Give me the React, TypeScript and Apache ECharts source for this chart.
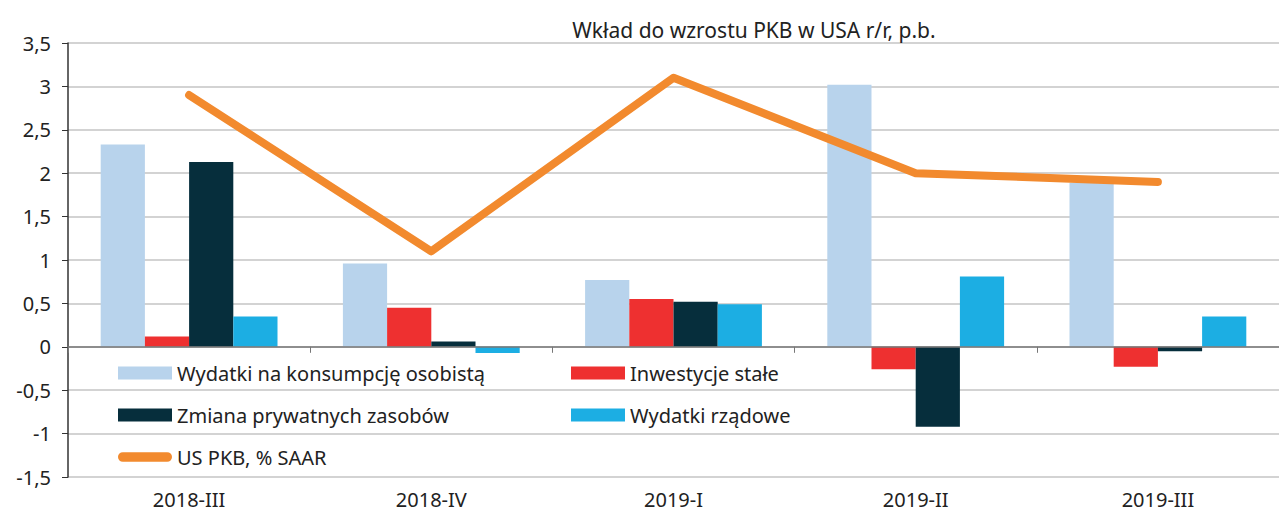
import React, { useEffect, useRef } from "react";
import * as echarts from "echarts";

const categories = ["2018-III", "2018-IV", "2019-I", "2019-II", "2019-III"];
const consumption = [2.33, 0.96, 0.77, 3.02, 1.89];
const investment = [0.12, 0.45, 0.55, -0.26, -0.23];
const inventories = [2.13, 0.06, 0.52, -0.92, -0.05];
const government = [0.35, -0.07, 0.49, 0.81, 0.35];
const gdp = [2.9, 1.1, 3.1, 2.0, 1.9];

const names = [
  "Wydatki na konsumpcję osobistą",
  "Inwestycje stałe",
  "Zmiana prywatnych zasobów",
  "Wydatki rządowe",
  "US PKB, % SAAR",
];
const colors = ["#B8D3EC", "#EE3030", "#062E3C", "#1CAEE3", "#F28A2E"];

const FONT = "'Noto Sans', sans-serif";
const FS = 20;

export default function App() {
  const ref = useRef<HTMLDivElement>(null);
  useEffect(() => {
    if (!ref.current) return;
    const chart = echarts.init(ref.current, null, { renderer: "svg" });
    const legendText = { fontSize: FS, color: "#222", fontFamily: FONT, padding: [0, 0, 0, 0] };
    const legendPos = [
      { left: 118, top: 363 },
      { left: 571, top: 363 },
      { left: 118, top: 405 },
      { left: 571, top: 405 },
      { left: 118, top: 447 },
    ];
    const legends = names.map((n, i) => ({
      data: [n],
      left: legendPos[i].left,
      top: legendPos[i].top,
      orient: "horizontal",
      itemWidth: 54,
      itemHeight: i === 4 ? 10 : 13,
      itemGap: 0,
      padding: 0,
      icon: i === 4 ? "path://M5,0 H51 A5,5 0 0 1 51,10 H5 A5,5 0 0 1 5,0 Z" : "rect",
      textStyle: legendText,
      selectedMode: false,
    }));
    const barSeries = [consumption, investment, inventories, government].map((d, i) => ({
      name: names[i],
      type: "bar",
      data: d,
      barGap: "0%",
      barCategoryGap: "27%",
      itemStyle: { color: colors[i] },
      z: 2,
    }));
    chart.setOption({
      animation: false,
      textStyle: { fontFamily: FONT },
      title: {
        text: "Wkład do wzrostu PKB w USA r/r, p.b.",
        left: 749,
        textAlign: "center",
        top: 14,
        textStyle: { fontSize: 21, fontWeight: "normal", color: "#222", fontFamily: FONT },
      },
      legend: legends,
      grid: { left: 68, right: -14, top: 43, bottom: 37, containLabel: false },
      xAxis: [
        {
          type: "category",
          data: categories,
          axisLine: { onZero: true, lineStyle: { color: "#777", width: 1.5 } },
          axisTick: { show: true, length: 6, inside: false, lineStyle: { color: "#777" } },
          axisLabel: { show: false },
          z: 5,
        },
        {
          type: "category",
          data: categories,
          position: "bottom",
          axisLine: { show: false, onZero: false },
          axisTick: { show: false },
          axisLabel: { fontSize: FS, color: "#222", margin: 12, fontFamily: FONT },
        },
      ],
      yAxis: {
        type: "value",
        min: -1.5,
        max: 3.5,
        interval: 0.5,
        axisLine: { show: true, lineStyle: { color: "#333", width: 1.5 } },
        axisTick: { show: true, length: 6, lineStyle: { color: "#333" } },
        axisLabel: {
          fontSize: FS,
          color: "#222",
          margin: 17,
          fontFamily: FONT,
          formatter: (v: number) => String(v).replace(".", ","),
        },
        splitLine: { show: true, lineStyle: { color: "#c4c4c4", width: 1.5 } },
      },
      series: [
        ...barSeries,
        {
          name: names[4],
          type: "line",
          data: gdp,
          symbol: "none",
          lineStyle: { color: colors[4], width: 8, cap: "round", join: "round" },
          itemStyle: { color: colors[4] },
          z: 4,
        },
      ],
    });
    return () => chart.dispose();
  }, []);
  return <div ref={ref} style={{ width: 1279, height: 514, position: "absolute", left: 0, top: 0 }} />;
}
